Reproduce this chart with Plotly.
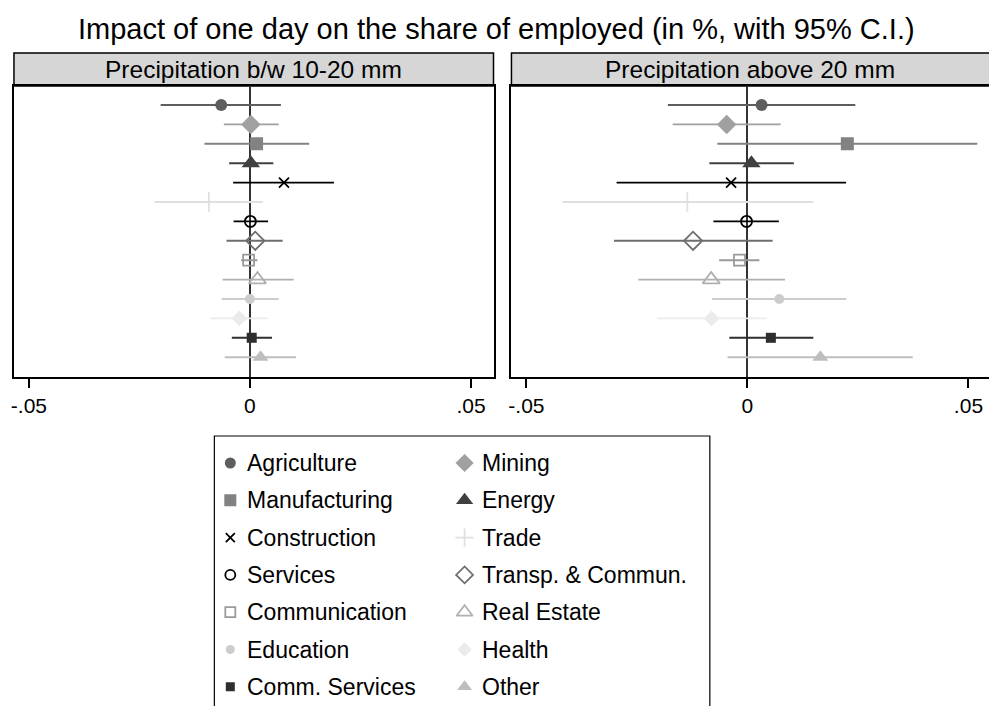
import plotly.graph_objects as go

# Sectors, in plotting order (top to bottom)
sectors = ["Agriculture", "Mining", "Manufacturing", "Energy", "Construction",
           "Trade", "Services", "Transp. & Commun.", "Communication",
           "Real Estate", "Education", "Health", "Comm. Services", "Other"]

# Precipitation between 10 and 20 mm: point estimates and 95% C.I. bounds
coef_mid = [-0.0065, 0.0002, 0.0015, 0.0002, 0.0077, -0.0093, 0.0001,
            0.0012, -0.0003, 0.0017, 0.0000, -0.0024, 0.0004, 0.0024]
lo_mid = [-0.0202, -0.0059, -0.0103, -0.0047, -0.0038, -0.0216, -0.0037,
          -0.0053, -0.0020, -0.0062, -0.0064, -0.0089, -0.0041, -0.0057]
hi_mid = [0.0070, 0.0065, 0.0134, 0.0053, 0.0190, 0.0029, 0.0041,
          0.0074, 0.0017, 0.0099, 0.0065, 0.0040, 0.0050, 0.0104]

# Precipitation above 20 mm
coef_high = [0.0032, -0.0047, 0.0226, 0.0009, -0.0037, -0.0136, -0.0002,
             -0.0123, -0.0018, -0.0082, 0.0072, -0.0081, 0.0053, 0.0165]
lo_high = [-0.0180, -0.0169, -0.0068, -0.0086, -0.0296, -0.0419, -0.0077,
           -0.0302, -0.0064, -0.0247, -0.0080, -0.0205, -0.0041, -0.0045]
hi_high = [0.0244, 0.0075, 0.0520, 0.0105, 0.0223, 0.0149, 0.0071,
           0.0057, 0.0027, 0.0085, 0.0224, 0.0043, 0.0149, 0.0374]

panel_titles = ["Precipitation b/w 10-20 mm", "Precipitation above 20 mm"]
title_text = "Impact of one day on the share of employed (in %, with 95% C.I.)"
tick_vals = [-0.05, 0, 0.05]
tick_text = ["-.05", "0", ".05"]

# Marker styles per sector
symbols = ["circle", "diamond", "square", "triangle-up", "x-thin-open",
           "cross-thin-open", "circle-open", "diamond-open", "square-open",
           "triangle-up-open", "circle", "diamond", "square", "triangle-up"]
colors = ["#5e5e5e", "#a0a0a0", "#828282", "#404040", "#000000",
          "#e0e0e0", "#000000", "#6e6e6e", "#9a9a9a", "#b0b0b0",
          "#cccccc", "#ebebeb", "#2e2e2e", "#bebebe"]
sizes = [12, 15, 13, 16, 10, 14, 11, 14, 11, 15, 10, 12, 10, 14]

FONT = "Arial, Liberation Sans, sans-serif"
W, H = 989, 706

# Pixel geometry of the panels
plot_top, plot_bot = 86, 377
strip_top = 53
panels = [(11, 492, 247.7), (510, 989, 746.7)]   # left px, right px, zero px
px_per_unit = 4434.0
rows = list(range(1, len(sectors) + 1))
row_px = 19.4
y_range = [1 + (plot_bot - 105) / row_px, 1 - (105 - plot_top) / row_px]

fig = go.Figure()

data = [(coef_mid, lo_mid, hi_mid), (coef_high, lo_high, hi_high)]
for p, (coef, lo, hi) in enumerate(data):
    xa = "x" if p == 0 else "x2"
    ya = "y" if p == 0 else "y2"
    for i, name in enumerate(sectors):
        is_open = symbols[i].endswith("open")
        fig.add_trace(go.Scatter(
            x=[coef[i]], y=[rows[i]], xaxis=xa, yaxis=ya, mode="markers",
            name=name, showlegend=False,
            marker=dict(symbol=symbols[i], size=sizes[i], color=colors[i],
                        line=dict(color=colors[i], width=1.8 if is_open else 0)),
            error_x=dict(type="data", symmetric=False,
                         array=[hi[i] - coef[i]], arrayminus=[coef[i] - lo[i]],
                         color=colors[i], thickness=1.9, width=0),
        ))

for p, (l, r, z) in enumerate(panels):
    xr = [(l - z) / px_per_unit, (r - z) / px_per_unit]
    xkey = "xaxis" if p == 0 else "xaxis2"
    ykey = "yaxis" if p == 0 else "yaxis2"
    fig.layout[xkey] = dict(
        domain=[l / W, r / W], range=xr, tickvals=tick_vals, ticktext=tick_text,
        ticks="outside", ticklen=9, tickwidth=1.5, tickcolor="black",
        tickfont=dict(family=FONT, size=21, color="black"),
        zeroline=True, zerolinecolor="#333333", zerolinewidth=1.8,
        showgrid=False, showline=True, mirror=True, linecolor="black", linewidth=1.5,
        anchor="y" if p == 0 else "y2")
    # the right-hand panel runs off the page edge, so only its left frame shows
    fig.layout[ykey] = dict(
        domain=[(H - plot_bot) / H, (H - plot_top) / H], range=y_range,
        showticklabels=False, ticks="", zeroline=False, showgrid=False,
        showline=True, mirror=(p == 0), linecolor="black", linewidth=1.5,
        anchor="x" if p == 0 else "x2")
    # Panel strip with title
    fig.add_shape(type="rect", xref="paper", yref="paper",
                  x0=l / W, x1=(r / W if p == 0 else 1.01),
                  y0=(H - plot_top) / H, y1=(H - strip_top) / H,
                  fillcolor="#d6d6d6", line=dict(color="black", width=1.5),
                  layer="below")
    fig.add_annotation(text=panel_titles[p], xref="paper", yref="paper",
                       x=(l + r) / 2 / W, y=(H - (plot_top + strip_top) / 2) / H,
                       xanchor="center", yanchor="middle", showarrow=False,
                       font=dict(family=FONT, size=24.5, color="black"))

# Legend drawn in its own axes: two columns, row-major order
leg_l, leg_r, leg_top = 212, 709, 436
leg_row0, leg_dy = 463, 37.3
col_marker = [(228 - leg_l) / (leg_r - leg_l), (463 - leg_l) / (leg_r - leg_l)]
text_gap = 15 / (leg_r - leg_l)
fig.layout["xaxis3"] = dict(domain=[leg_l / W, leg_r / W], range=[0, 1],
                            visible=False, anchor="y3")
fig.layout["yaxis3"] = dict(domain=[0, (H - leg_top) / H],
                            range=[(H - leg_row0) / leg_dy, -(leg_row0 - leg_top) / leg_dy],
                            visible=False, anchor="x3")
for i, name in enumerate(sectors):
    col, row = i % 2, i // 2
    is_open = symbols[i].endswith("open")
    fig.add_trace(go.Scatter(
        x=[col_marker[col]], y=[row], xaxis="x3", yaxis="y3", mode="markers",
        showlegend=False, name=name,
        marker=dict(symbol=symbols[i], size=sizes[i] - 1, color=colors[i],
                    line=dict(color=colors[i], width=1.8 if is_open else 0)),
    ))
    fig.add_annotation(text=name, x=col_marker[col] + text_gap, y=row,
                       xref="x3", yref="y3", xanchor="left", yanchor="middle",
                       showarrow=False, font=dict(family=FONT, size=23, color="black"))
fig.add_shape(type="rect", xref="paper", yref="paper",
              x0=leg_l / W, x1=leg_r / W, y0=-0.1, y1=(H - leg_top) / H,
              line=dict(color="black", width=1.2), fillcolor="rgba(0,0,0,0)")

fig.add_annotation(text=title_text, xref="paper", yref="paper", x=0.5,
                   y=(H - 29) / H, xanchor="center", yanchor="middle",
                   showarrow=False, font=dict(family=FONT, size=29, color="black"))

fig.update_layout(width=W, height=H, margin=dict(l=0, r=0, t=0, b=0),
                  paper_bgcolor="white", plot_bgcolor="white", showlegend=False)

fig.write_html("out.html")
